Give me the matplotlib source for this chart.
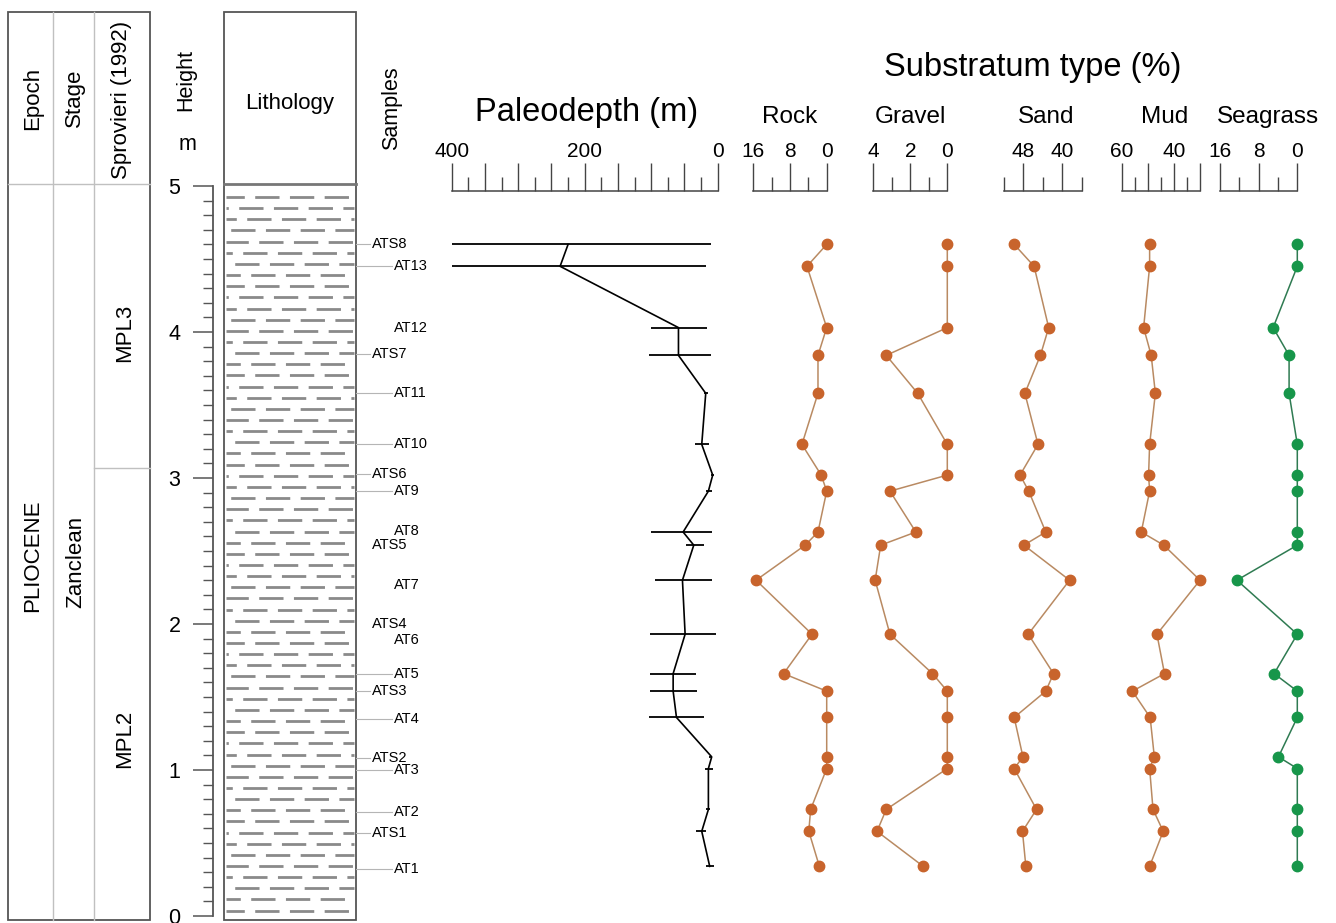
import numpy as np
import matplotlib
matplotlib.use('Agg')
import matplotlib.pyplot as plt
from matplotlib.patches import Rectangle
from matplotlib.ticker import FixedLocator, FuncFormatter

plt.rcParams['font.family'] = ['Liberation Sans', 'DejaVu Sans']
plt.rcParams['lines.scale_dashes'] = False

# ---- data (height in m) ----
heights = [4.60, 4.45, 4.03, 3.84, 3.58, 3.23, 3.02, 2.91, 2.63, 2.54,
           2.30, 1.93, 1.66, 1.54, 1.36, 1.09, 1.01, 0.73, 0.58, 0.34]

paleodepth = [225, 237, 59, 59, 18, 24, 7.5, 14, 52, 36,
              53, 49, 67, 67, 62, 9, 14, 14, 24, 12]
depth_min = [10, 18, 16, 10, 15, 13, 5, 9, 8, 20,
             8, 2, 33, 31, 20, 8, 7, 12, 17, 6]
depth_max = [400, 400, 101, 103, 21, 34, 10, 18, 101, 48,
             94, 102, 102, 102, 103, 13, 19, 17, 33, 17]

rock = [0, 4.3, 0, 1.9, 1.9, 5.4, 1.2, 0, 1.9, 4.7,
        15.4, 3.2, 9.4, 0, 0, 0, 0, 3.5, 3.9, 1.6]
gravel = [0, 0, 0, 3.3, 1.6, 0, 0, 3.1, 1.7, 3.6,
          3.9, 3.1, 0.8, 0, 0, 0, 0, 3.3, 3.8, 1.3]
sand = [49.9, 45.8, 42.8, 44.5, 47.7, 45.0, 48.7, 46.9, 43.4, 47.9,
        38.5, 47.0, 41.8, 43.4, 49.9, 48.1, 49.9, 45.3, 48.2, 47.5]
mud = [49.3, 49.3, 51.6, 48.7, 47.1, 49.3, 49.7, 49.3, 52.5, 43.9,
       30.0, 46.5, 43.6, 55.9, 49.1, 47.5, 49.3, 48.0, 44.1, 49.3]
seagrass = [0, 0, 5.0, 1.7, 1.7, 0, 0, 0, 0, 0,
            12.5, 0, 4.8, 0, 0, 3.9, 0, 0, 0, 0]

sample_names = ['ATS8', 'AT13', 'AT12', 'ATS7', 'AT11', 'AT10', 'ATS6', 'AT9',
                'AT8', 'ATS5', 'AT7', 'ATS4', 'AT6', 'AT5', 'ATS3', 'AT4',
                'ATS2', 'AT3', 'AT2', 'ATS1', 'AT1']
sample_heights = [4.60, 4.45, 4.03, 3.85, 3.58, 3.23, 3.03, 2.91, 2.64, 2.54,
                  2.27, 2.00, 1.89, 1.66, 1.54, 1.35, 1.08, 1.00, 0.71, 0.57, 0.32]
sample_leader = [1, 1, 0, 1, 1, 1, 1, 1, 0, 0, 0, 0, 0, 1, 1, 1, 1, 1, 1, 1, 1]

# ---- layout helpers (pixel boxes) ----
W, H = 1336, 923
fig = plt.figure(figsize=(W / 100, H / 100), dpi=100)


def box(x0, y0, x1, y1):
    return [x0 / W, 1 - y1 / H, (x1 - x0) / W, (y1 - y0) / H]


bg = fig.add_axes([0, 0, 1, 1])
bg.set_xlim(0, W)
bg.set_ylim(H, 0)
bg.axis('off')

frame = '#555555'
light = '#c0c0c0'
TOP, BASE = 186, 916  # pixel rows of 5 m and 0 m

# left table: Epoch / Stage / Sprovieri
bg.add_patch(Rectangle((8, 12), 142, 908, fill=False, ec=frame, lw=1.3))
for xv in [53, 94]:
    bg.plot([xv, xv], [12, 920], color=light, lw=1)
bg.plot([8, 150], [184, 184], color=light, lw=1)
bg.plot([94, 150], [468, 468], color=light, lw=1)

hdr = dict(rotation=90, ha='center', va='center', fontsize=16)
bg.text(33, 98, 'Epoch', **hdr)
bg.text(74, 98, 'Stage', **hdr)
bg.text(122, 100, 'Sprovieri (1992)', **hdr)
bg.text(33, 556, 'PLIOCENE', **hdr)
bg.text(76, 562, 'Zanclean', **hdr)
bg.text(125, 333, 'MPL3', **hdr)
bg.text(125, 739, 'MPL2', **hdr)

bg.text(186, 80, 'Height', rotation=90, ha='center', va='center', fontsize=15.5)
bg.text(187, 145, 'm', ha='center', va='center', fontsize=15.5)

# lithology column
bg.add_patch(Rectangle((224, 12), 132, 908, fill=False, ec=frame, lw=1.3))
bg.plot([224, 356], [184, 184], color='#777777', lw=2)
bg.text(290, 104, 'Lithology', ha='center', va='center', fontsize=16)
offsets = [6, 22, 14, 30, 2, 18, 26, 10]
for i, yr in enumerate(np.arange(197, 916, 11.15)):
    bg.plot([226, 354], [yr, yr], color='#8a8a8a', lw=2.0,
            linestyle=(offsets[i % len(offsets)] * 0.72, (17.5, 7.5)),
            solid_capstyle='butt', dash_capstyle='butt')

bg.text(392, 108, 'Samples', rotation=90, ha='center', va='center', fontsize=15.5)

# right headers
bg.text(587, 121, 'Paleodepth (m)', ha='center', va='baseline', fontsize=23.5)
bg.text(1033, 76, 'Substratum type (%)', ha='center', va='baseline', fontsize=23.5)
col_titles = [('Rock', 790), ('Gravel', 910), ('Sand', 1046),
              ('Mud', 1165), ('Seagrass', 1268)]
for t, xc in col_titles:
    bg.text(xc, 123, t, ha='center', va='baseline', fontsize=17.5)

# ---- height scale ----
ax_h = fig.add_axes(box(213, TOP, 223, BASE))
ax_h.set_ylim(0, 5)
ax_h.patch.set_alpha(0)
for s in ['top', 'right', 'bottom']:
    ax_h.spines[s].set_visible(False)
ax_h.spines['left'].set_color(frame)
ax_h.spines['left'].set_linewidth(1.3)
ax_h.set_xticks([])
ax_h.set_yticks(range(0, 6))
ax_h.yaxis.set_minor_locator(FixedLocator(np.arange(0, 5.01, 0.1)))
ax_h.tick_params(axis='y', which='major', length=14.4, width=1.1, color=frame,
                 pad=9, labelsize=15.5)
ax_h.tick_params(axis='y', which='minor', length=7.2, width=1.0, color=frame)

# ---- samples ----
ax_s = fig.add_axes(box(356, TOP, 430, BASE))
ax_s.set_xlim(356, 430)
ax_s.set_ylim(0, 5)
ax_s.axis('off')
for name, hgt, lead in zip(sample_names, sample_heights, sample_leader):
    x0 = 372 if name.startswith('ATS') else 394
    if lead:
        ax_s.plot([356, x0 - 2], [hgt, hgt], color='#b5b5b5', lw=0.8, clip_on=False)
    ax_s.text(x0, hgt, name, ha='left', va='center', fontsize=10.5, clip_on=False)


# ---- data columns ----
def column(x0, x1, lim, majors, minors, labels):
    sc = fig.add_axes(box(x0, 162.7, x1, 190.5))
    sc.set_xlim(*lim)
    sc.patch.set_alpha(0)
    for s in ['top', 'left', 'right']:
        sc.spines[s].set_visible(False)
    sc.spines['bottom'].set_color('#444444')
    sc.spines['bottom'].set_linewidth(1.1)
    sc.set_yticks([])
    sc.xaxis.set_major_locator(FixedLocator(majors))
    sc.xaxis.set_minor_locator(FixedLocator(minors))
    sc.xaxis.set_major_formatter(FuncFormatter(
        lambda v, p: ('%g' % v) if v in labels else ''))
    sc.tick_params(axis='x', which='both', direction='in', bottom=True, top=False,
                   labelbottom=False, labeltop=True, color='#444444', width=1.0)
    sc.tick_params(axis='x', which='major', length=20, pad=1, labelsize=15)
    sc.tick_params(axis='x', which='minor', length=10)
    ax = fig.add_axes(box(x0, TOP, x1, BASE))
    ax.set_xlim(*lim)
    ax.set_ylim(0, 5)
    ax.axis('off')
    return ax


ax_p = column(451.7, 717.7, (400, 0), np.arange(0, 401, 50), np.arange(25, 400, 50),
              [400, 200, 0])
xerr = [np.array(paleodepth) - np.array(depth_min),
        np.array(depth_max) - np.array(paleodepth)]
ax_p.errorbar(paleodepth, heights, xerr=xerr, color='black', lw=1.2,
              elinewidth=1.3, capsize=0, clip_on=False)

orange, orange_line = '#c8642c', '#b98a62'
green, green_line = '#17964a', '#2f7b52'
specs = [
    (753.3, 826.7, (16, 0), [16, 8, 0], [12, 4], [16, 8, 0], rock, orange, orange_line),
    (873.3, 947.3, (4, 0), [4, 2, 0], [3, 1], [4, 2, 0], gravel, orange, orange_line),
    (1004, 1081.7, (52, 36), [48, 40], [52, 44, 36], [48, 40], sand, orange, orange_line),
    (1121.7, 1200, (60, 30), [60, 50, 40, 30], [55, 45, 35], [60, 40], mud, orange, orange_line),
    (1220, 1297.3, (16, 0), [16, 8, 0], [12, 4], [16, 8, 0], seagrass, green, green_line),
]
for x0, x1, lim, mj, mn, lb, vals, mc, lc in specs:
    ax = column(x0, x1, lim, mj, mn, lb)
    ax.plot(vals, heights, color=lc, lw=1.1, zorder=2, clip_on=False)
    ax.plot(vals, heights, 'o', color=mc, ms=7.5, zorder=3, clip_on=False)

fig.savefig('out.png', dpi=100)
